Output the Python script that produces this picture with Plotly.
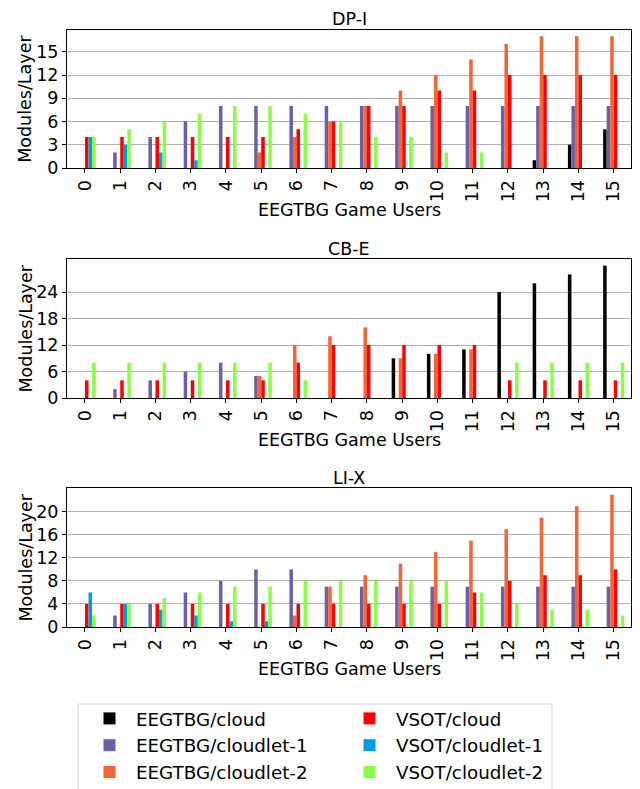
import plotly.graph_objects as go

users = list(range(16))
user_labels = [str(u) for u in users]

series_names = ["EEGTBG/cloud", "EEGTBG/cloudlet-1", "EEGTBG/cloudlet-2",
                "VSOT/cloud", "VSOT/cloudlet-1", "VSOT/cloudlet-2"]
series_colors = ["#000000", "#6960A8", "#F26535", "#FF0000", "#009DDE", "#88FF44"]
series_legend = ["legend", "legend", "legend", "legend2", "legend2", "legend2"]

# DP-I
dpi_eegtbg_cloud     = [0, 0, 0, 0, 0, 0, 0, 0, 0, 0, 0, 0, 0, 1, 3, 5]
dpi_eegtbg_cloudlet1 = [0, 2, 4, 6, 8, 8, 8, 8, 8, 8, 8, 8, 8, 8, 8, 8]
dpi_eegtbg_cloudlet2 = [0, 0, 0, 0, 0, 2, 4, 6, 8, 10, 12, 14, 16, 17, 17, 17]
dpi_vsot_cloud       = [4, 4, 4, 4, 4, 4, 5, 6, 8, 8, 10, 10, 12, 12, 12, 12]
dpi_vsot_cloudlet1   = [4, 3, 2, 1, 0, 0, 0, 0, 0, 0, 0, 0, 0, 0, 0, 0]
dpi_vsot_cloudlet2   = [4, 5, 6, 7, 8, 8, 7, 6, 4, 4, 2, 2, 0, 0, 0, 0]

# CB-E
cbe_eegtbg_cloud     = [0, 0, 0, 0, 0, 0, 0, 0, 0, 9, 10, 11, 24, 26, 28, 30]
cbe_eegtbg_cloudlet1 = [0, 2, 4, 6, 8, 5, 0, 0, 0, 0, 0, 0, 0, 0, 0, 0]
cbe_eegtbg_cloudlet2 = [0, 0, 0, 0, 0, 5, 12, 14, 16, 9, 10, 11, 0, 0, 0, 0]
cbe_vsot_cloud       = [4, 4, 4, 4, 4, 4, 8, 12, 12, 12, 12, 12, 4, 4, 4, 4]
cbe_vsot_cloudlet1   = [0, 0, 0, 0, 0, 0, 0, 0, 0, 0, 0, 0, 0, 0, 0, 0]
cbe_vsot_cloudlet2   = [8, 8, 8, 8, 8, 8, 4, 0, 0, 0, 0, 0, 8, 8, 8, 8]

# LI-X
lix_eegtbg_cloud     = [0, 0, 0, 0, 0, 0, 0, 0, 0, 0, 0, 0, 0, 0, 0, 0]
lix_eegtbg_cloudlet1 = [0, 2, 4, 6, 8, 10, 10, 7, 7, 7, 7, 7, 7, 7, 7, 7]
lix_eegtbg_cloudlet2 = [0, 0, 0, 0, 0, 0, 2, 7, 9, 11, 13, 15, 17, 19, 21, 23]
lix_vsot_cloud       = [4, 4, 4, 4, 4, 4, 4, 4, 4, 4, 4, 6, 8, 9, 9, 10]
lix_vsot_cloudlet1   = [6, 4, 3, 2, 1, 1, 0, 0, 0, 0, 0, 0, 0, 0, 0, 0]
lix_vsot_cloudlet2   = [2, 4, 5, 6, 7, 7, 8, 8, 8, 8, 8, 6, 4, 3, 3, 2]

panels = [
    ("DP-I", [dpi_eegtbg_cloud, dpi_eegtbg_cloudlet1, dpi_eegtbg_cloudlet2,
              dpi_vsot_cloud, dpi_vsot_cloudlet1, dpi_vsot_cloudlet2],
     [0, 3, 6, 9, 12, 15], 17.85),
    ("CB-E", [cbe_eegtbg_cloud, cbe_eegtbg_cloudlet1, cbe_eegtbg_cloudlet2,
              cbe_vsot_cloud, cbe_vsot_cloudlet1, cbe_vsot_cloudlet2],
     [0, 6, 12, 18, 24], 31.5),
    ("LI-X", [lix_eegtbg_cloud, lix_eegtbg_cloudlet1, lix_eegtbg_cloudlet2,
              lix_vsot_cloud, lix_vsot_cloudlet1, lix_vsot_cloudlet2],
     [0, 4, 8, 12, 16, 20], 24.15),
]

FONT = "DejaVu Sans"
FS = 17.5
FS_LEG = 18.3
OFF = 8  # browser body margin
W, H = 640 - OFF, 789 - OFF
# plot area in page px
L, R, T, B = 67, 631, 29, 627
PH = B - T

def py(p):
    return (B - p) / PH

def px(p):
    return (p - L) / (R - L)

panel_px = [(29.7, 168), (259, 398), (488, 627)]

fig = go.Figure()
annotations = []
for i, (title, data, yticks, ymax) in enumerate(panels):
    n = i + 1
    xa = "x" if n == 1 else f"x{n}"
    ya = "y" if n == 1 else f"y{n}"
    for s in range(6):
        fig.add_trace(go.Bar(
            x=users, y=data[s], name=series_names[s],
            marker=dict(color=series_colors[s], line=dict(width=0)),
            xaxis=xa, yaxis=ya, legendgroup=series_names[s],
            showlegend=(n == 1), legend=series_legend[s],
        ))
    top, bot = panel_px[i]
    xkey = "xaxis" if n == 1 else f"xaxis{n}"
    ykey = "yaxis" if n == 1 else f"yaxis{n}"
    fig.update_layout(**{
        xkey: dict(domain=[0, 1], anchor=ya, range=[-0.51, 15.49], automargin=False,
                   tickvals=users, ticktext=user_labels, tickangle=-90,
                   showgrid=False, showline=True, linecolor="black", linewidth=1,
                   mirror=True, ticks="outside", ticklen=4, tickcolor="black",
                   tickfont=dict(family=FONT, size=FS, color="black"), zeroline=False),
        ykey: dict(domain=[py(bot), py(top)], anchor=xa, range=[0, ymax], automargin=False,
                   tickvals=yticks, showgrid=True, gridcolor="#b0b0b0", gridwidth=1,
                   showline=True, linecolor="black", linewidth=1, mirror=True,
                   ticks="outside", ticklen=4, tickcolor="black",
                   tickfont=dict(family=FONT, size=FS, color="black"), zeroline=False),
    })
    annotations.append(dict(text=title, x=0.5, xref="paper", y=py(top - 10.5), yref="paper",
                            xanchor="center", yanchor="middle", showarrow=False,
                            font=dict(family=FONT, size=FS, color="black")))
    annotations.append(dict(text="EEGTBG Game Users", x=0.5, xref="paper",
                            y=py(bot + 42), yref="paper", xanchor="center", yanchor="middle",
                            showarrow=False, font=dict(family=FONT, size=FS, color="black")))
    annotations.append(dict(text="Modules/Layer", x=px(25), xref="paper",
                            y=py((top + bot) / 2), yref="paper", xanchor="center",
                            yanchor="middle", textangle=-90, showarrow=False,
                            font=dict(family=FONT, size=FS, color="black")))

leg_common = dict(orientation="v", yanchor="top", xanchor="left", itemwidth=43,
                  bgcolor="rgba(0,0,0,0)", borderwidth=0, traceorder="normal",
                  font=dict(family=FONT, size=FS_LEG, color="black"))

fig.update_layout(
    width=W, height=H,
    margin=dict(l=L - OFF, r=W - (R - OFF), t=T - OFF, b=H - (B - OFF), autoexpand=False),
    paper_bgcolor="white", plot_bgcolor="white",
    barmode="group", bargap=0.4, bargroupgap=0,
    annotations=annotations,
    font=dict(family=FONT, size=FS, color="black"),
    legend=dict(x=px(83), y=py(700), **leg_common),
    legend2=dict(x=px(343), y=py(700), **leg_common),
    shapes=[dict(type="rect", xref="paper", yref="paper",
                 x0=px(78), x1=px(552), y0=py(800), y1=py(704),
                 line=dict(color="#d6d6d6", width=1), fillcolor="white", layer="below")],
)

fig.write_html("out.html")
